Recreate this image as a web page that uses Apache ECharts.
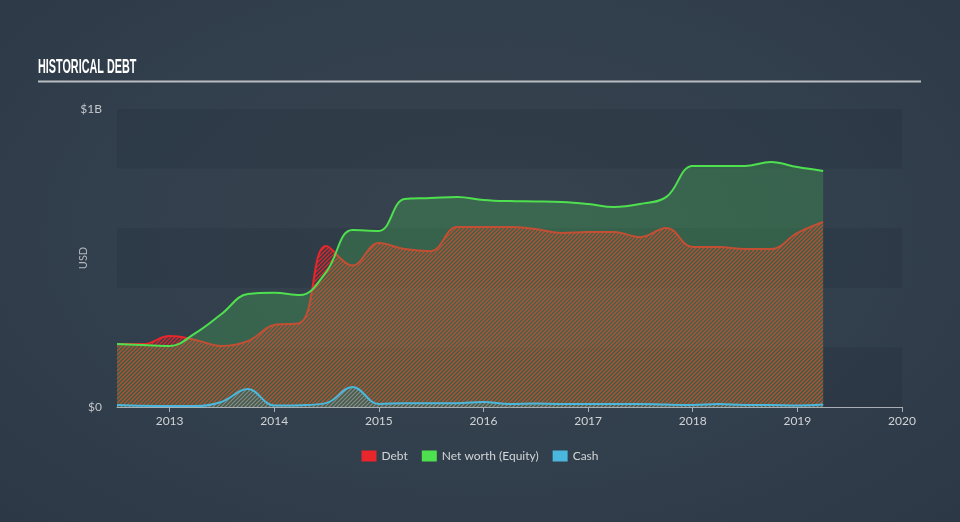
<!DOCTYPE html>
<html>
<head>
<meta charset="utf-8">
<script src="https://cdn.jsdelivr.net/npm/echarts@6/dist/echarts.min.js"></script>
<style>
html,body{margin:0;padding:0;}
body{width:960px;height:522px;background:radial-gradient(ellipse at 50% 45%, #37444f 0%, #323f4c 55%, #2c3845 100%);}
#chart{width:960px;height:522px;}
</style>
</head>
<body>
<div id="chart"></div>
<script>
// Quarter-end dates
const dates = ['2012-06-30','2012-09-30','2012-12-31','2013-03-31','2013-06-30','2013-09-30','2013-12-31',
  '2014-03-31','2014-06-30','2014-09-30','2014-12-31','2015-03-31','2015-06-30','2015-09-30','2015-12-31',
  '2016-03-31','2016-06-30','2016-09-30','2016-12-31','2017-03-31','2017-06-30','2017-09-30','2017-12-31',
  '2018-03-31','2018-06-30','2018-09-30','2018-12-31','2019-03-31'];
// Values in USD billions
const debt = [0.211,0.211,0.238,0.225,0.205,0.221,0.275,0.282,0.540,0.475,0.550,0.530,0.523,0.604,0.604,
  0.604,0.597,0.584,0.587,0.587,0.570,0.601,0.537,0.537,0.530,0.530,0.584,0.621];
const equity = [0.211,0.208,0.205,0.248,0.312,0.379,0.383,0.376,0.453,0.594,0.591,0.698,0.701,0.705,0.695,
  0.691,0.690,0.688,0.681,0.671,0.681,0.705,0.809,0.809,0.809,0.822,0.805,0.792];
const cash = [0.007,0.004,0.003,0.003,0.017,0.060,0.005,0.006,0.013,0.067,0.010,0.013,0.013,0.013,0.017,
  0.010,0.012,0.010,0.010,0.010,0.010,0.008,0.007,0.010,0.007,0.007,0.005,0.008];
const yearTicks = [2013,2014,2015,2016,2017,2018,2019,2020];
const yTickLabels = {0:'$0', 1:'$1B'};

function toYear(s){
  const [y,m,d] = s.split('-').map(Number);
  const start = Date.UTC(y,0,1), end = Date.UTC(y+1,0,1);
  return y + (Date.UTC(y,m-1,d) + 86400000 - start) / (end - start);
}
function hatch(color, w){
  const c = document.createElement('canvas');
  c.width = 4; c.height = 4;
  const g = c.getContext('2d');
  g.strokeStyle = color; g.lineWidth = w;
  g.beginPath();
  g.moveTo(0,4); g.lineTo(4,0);
  g.moveTo(-1,1); g.lineTo(1,-1);
  g.moveTo(3,5); g.lineTo(5,3);
  g.stroke();
  return c;
}
const xs = dates.map(toYear);
const pts = arr => xs.map((x,i) => [x, arr[i]]);
const SMOOTH = 0.4;

const chart = echarts.init(document.getElementById('chart'));
chart.setOption({
  backgroundColor: 'transparent',
  animation: false,
  textStyle: {fontFamily: 'Lato, "Open Sans", sans-serif'},
  graphic: [
    {type:'text', left: 38, top: 57, scaleX: 0.515, style:{text:'HISTORICAL DEBT', fill:'#ffffff',
      font:'bold 21px "Liberation Sans", sans-serif'}},
    {type:'rect', shape:{x:38, y:80.5, width:883, height:2}, style:{fill:'#b9bdc2'}}
  ],
  legend: {
    top: 445, left: 'center', icon: 'rect', itemWidth: 15, itemHeight: 11, itemGap: 14,
    textStyle: {color:'#d2d5d8', fontSize: 12},
    data: ['Debt','Net worth (Equity)','Cash']
  },
  grid: {left: 117, right: 58, top: 109, bottom: 115},
  xAxis: {
    type: 'value',
    min: xs[0],
    max: 2020,
    axisLine: {show:true, lineStyle:{color:'#a9aeb4', width:1}},
    axisTick: {show:true, length:5, lineStyle:{color:'#a9aeb4'}, customValues: yearTicks},
    axisLabel: {color:'#d0d3d6', fontSize: 12, margin: 8, customValues: yearTicks,
      formatter: v => String(Math.round(v))},
    splitLine: {show:false}
  },
  yAxis: {
    type: 'value', min: 0, max: 1, interval: 0.2,
    name: 'USD', nameLocation: 'middle', nameGap: 28, nameRotate: 90, nameMoveOverlap: false,
    nameTextStyle: {color:'#b4b8bd', fontSize: 11},
    axisLine: {show:false}, axisTick: {show:false},
    axisLabel: {color:'#c3c7cb', fontSize: 12, margin: 15, customValues:[0,1],
      formatter: v => yTickLabels[v] || ''},
    splitLine: {show:false},
    splitArea: {show:true, areaStyle:{color:['rgba(10,20,30,0.10)','rgba(0,0,0,0)']}}
  },
  series: [
    {
      name: 'Debt', type: 'line', data: pts(debt), smooth: SMOOTH,
      showSymbol: false, z: 2,
      itemStyle: {color:'#e8262b'},
      lineStyle: {color:'#e8262b', width: 2},
      areaStyle: {color: {image: hatch('rgba(240,36,38,0.9)', 1.35), repeat:'repeat'}, opacity: 1}
    },
    {
      name: 'Net worth (Equity)', type: 'line', data: pts(equity), smooth: SMOOTH,
      showSymbol: false, z: 3,
      itemStyle: {color:'#4fe04f'},
      lineStyle: {color:'#4fe04f', width: 2},
      areaStyle: {color:'rgba(75,215,85,0.24)', opacity: 1}
    },
    {
      name: 'Cash', type: 'line', data: pts(cash), smooth: SMOOTH,
      showSymbol: false, z: 4,
      itemStyle: {color:'#4ab8de'},
      lineStyle: {color:'#4ab8de', width: 2},
      areaStyle: {color: {image: hatch('rgba(74,184,222,0.6)', 1.1), repeat:'repeat'}, opacity: 1}
    }
  ]
});
</script>
</body>
</html>
